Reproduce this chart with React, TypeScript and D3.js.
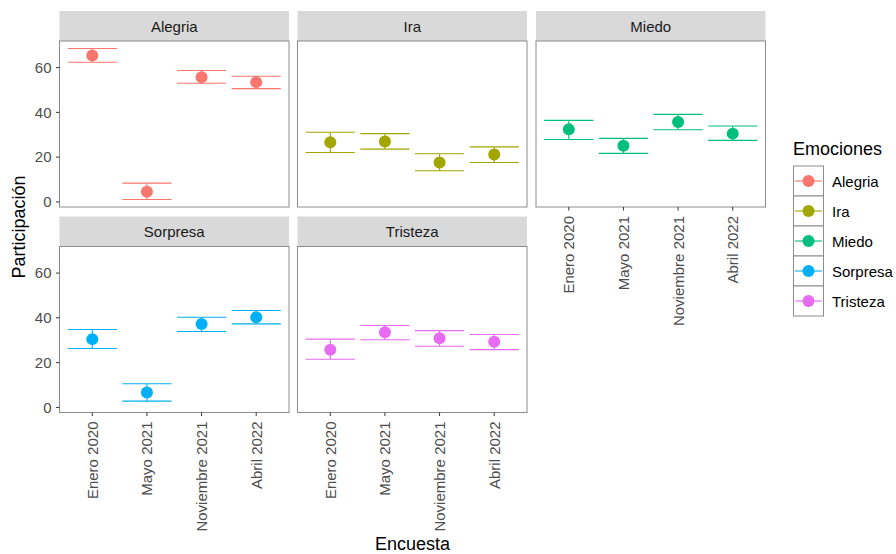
import React from "react";
import * as d3 from "d3";

const surveys = ["Enero 2020", "Mayo 2021", "Noviembre 2021", "Abril 2022"];
const emotions = ["Alegria", "Ira", "Miedo", "Sorpresa", "Tristeza"];
const colors = ["#F8766D", "#A3A500", "#00BF7D", "#00B0F6", "#E76BF3"];

const alegria = [65.4, 4.5, 55.7, 53.5];
const alegriaLow = [62.4, 1.1, 53.0, 50.6];
const alegriaHigh = [68.5, 8.4, 58.7, 56.1];

const ira = [26.7, 27.0, 17.6, 21.2];
const iraLow = [22.1, 23.6, 13.9, 17.6];
const iraHigh = [31.1, 30.5, 21.5, 24.6];

const miedo = [32.4, 25.1, 35.7, 30.5];
const miedoLow = [27.9, 21.7, 32.2, 27.5];
const miedoHigh = [36.4, 28.4, 39.1, 33.9];

const sorpresa = [30.5, 6.7, 37.3, 40.3];
const sorpresaLow = [26.3, 2.8, 33.9, 37.3];
const sorpresaHigh = [34.8, 10.6, 40.3, 43.3];

const tristeza = [25.8, 33.6, 30.9, 29.3];
const tristezaLow = [21.5, 30.2, 27.3, 25.8];
const tristezaHigh = [30.5, 36.6, 34.3, 32.6];

const yTicks = [0, 20, 40, 60];

const series = [
  { mean: alegria, low: alegriaLow, high: alegriaHigh },
  { mean: ira, low: iraLow, high: iraHigh },
  { mean: miedo, low: miedoLow, high: miedoHigh },
  { mean: sorpresa, low: sorpresaLow, high: sorpresaHigh },
  { mean: tristeza, low: tristezaLow, high: tristezaHigh },
];

const W = 896;
const H = 554;
const FONT = "'Liberation Sans', Arial, sans-serif";

const panelLefts = [59.5, 297.5, 536];
const panelW = 229.5;
const stripH = 30;
const rowTops = [11, 216.5];
const plotH = 166;

export default function App() {
  const allLow = d3.min(series.flatMap((s) => s.low)) as number;
  const allHigh = d3.max(series.flatMap((s) => s.high)) as number;
  const pad = (allHigh - allLow) * 0.05;
  const yDomain: [number, number] = [allLow - pad, allHigh + pad];

  const panels = emotions.map((e, i) => {
    const row = Math.floor(i / 3);
    const col = i % 3;
    return { e, i, row, col, x0: panelLefts[col], top: rowTops[row] };
  });

  return (
    <svg width={W} height={H} style={{ position: "absolute", left: 0, top: 0, background: "#fff" }} fontFamily={FONT}>
      <rect x={0} y={0} width={W} height={H} fill="#fff" />
      {panels.map((p) => {
        const plotTop = p.top + stripH;
        const plotBottom = plotTop + plotH;
        const x = d3
          .scaleBand<string>()
          .domain(surveys)
          .range([p.x0, p.x0 + panelW])
          .paddingOuter(0.1)
          .paddingInner(0);
        const y = d3.scaleLinear().domain(yDomain).range([plotBottom, plotTop]);
        const s = series[p.i];
        const color = colors[p.i];
        const bw = x.bandwidth();
        const showY = p.col === 0;
        const showX = p.row === 1 || p.col === 2;
        return (
          <g key={p.e}>
            <rect x={p.x0} y={p.top} width={panelW} height={stripH} fill="#d9d9d9" />
            <text x={p.x0 + panelW / 2} y={p.top + stripH / 2 + 5.5} textAnchor="middle" fontSize={15} fill="#1a1a1a">
              {p.e}
            </text>
            <rect x={p.x0} y={plotTop} width={panelW} height={plotH} fill="#fff" />
            {surveys.map((c, k) => {
              const cx = (x(c) as number) + bw / 2;
              return (
                <g key={c}>
                  <line x1={cx - bw * 0.45} x2={cx + bw * 0.45} y1={y(s.high[k])} y2={y(s.high[k])} stroke={color} strokeWidth={1.1} />
                  <line x1={cx - bw * 0.45} x2={cx + bw * 0.45} y1={y(s.low[k])} y2={y(s.low[k])} stroke={color} strokeWidth={1.1} />
                  <line x1={cx} x2={cx} y1={y(s.low[k])} y2={y(s.high[k])} stroke={color} strokeWidth={1.1} />
                  <circle cx={cx} cy={y(s.mean[k])} r={6} fill={color} />
                </g>
              );
            })}
            <rect x={p.x0} y={plotTop} width={panelW} height={plotH} fill="none" stroke="#8c8c8c" strokeWidth={1} />
            {showY &&
              yTicks.map((t) => (
                <g key={t}>
                  <line x1={p.x0 - 3.5} x2={p.x0} y1={y(t)} y2={y(t)} stroke="#333" strokeWidth={1} />
                  <text x={p.x0 - 8} y={y(t) + 5.3} textAnchor="end" fontSize={15} fill="#4d4d4d">
                    {t}
                  </text>
                </g>
              ))}
            {showX &&
              surveys.map((c) => {
                const cx = (x(c) as number) + bw / 2;
                return (
                  <g key={c}>
                    <line x1={cx} x2={cx} y1={plotBottom} y2={plotBottom + 3.5} stroke="#333" strokeWidth={1} />
                    <text
                      transform={`translate(${cx + 5.5},${plotBottom + 9}) rotate(-90)`}
                      textAnchor="end"
                      fontSize={15}
                      fill="#4d4d4d"
                    >
                      {c}
                    </text>
                  </g>
                );
              })}
          </g>
        );
      })}
      <text transform={`translate(25,227) rotate(-90)`} textAnchor="middle" fontSize={18} fill="#000">
        Participación
      </text>
      <text x={412.5} y={549.5} textAnchor="middle" fontSize={18} fill="#000">
        Encuesta
      </text>
      <text x={793} y={155} fontSize={18} fill="#000">
        Emociones
      </text>
      {emotions.map((e, i) => {
        const ky = 166 + i * 30;
        return (
          <g key={e}>
            <rect x={793.5} y={ky} width={30} height={30} fill="#fff" stroke="#8c8c8c" strokeWidth={1} />
            <line x1={795} x2={822} y1={ky + 15} y2={ky + 15} stroke={colors[i]} strokeWidth={1.1} />
            <circle cx={808.5} cy={ky + 15} r={6} fill={colors[i]} />
            <text x={832} y={ky + 20.5} fontSize={15} fill="#000">
              {e}
            </text>
          </g>
        );
      })}
    </svg>
  );
}
